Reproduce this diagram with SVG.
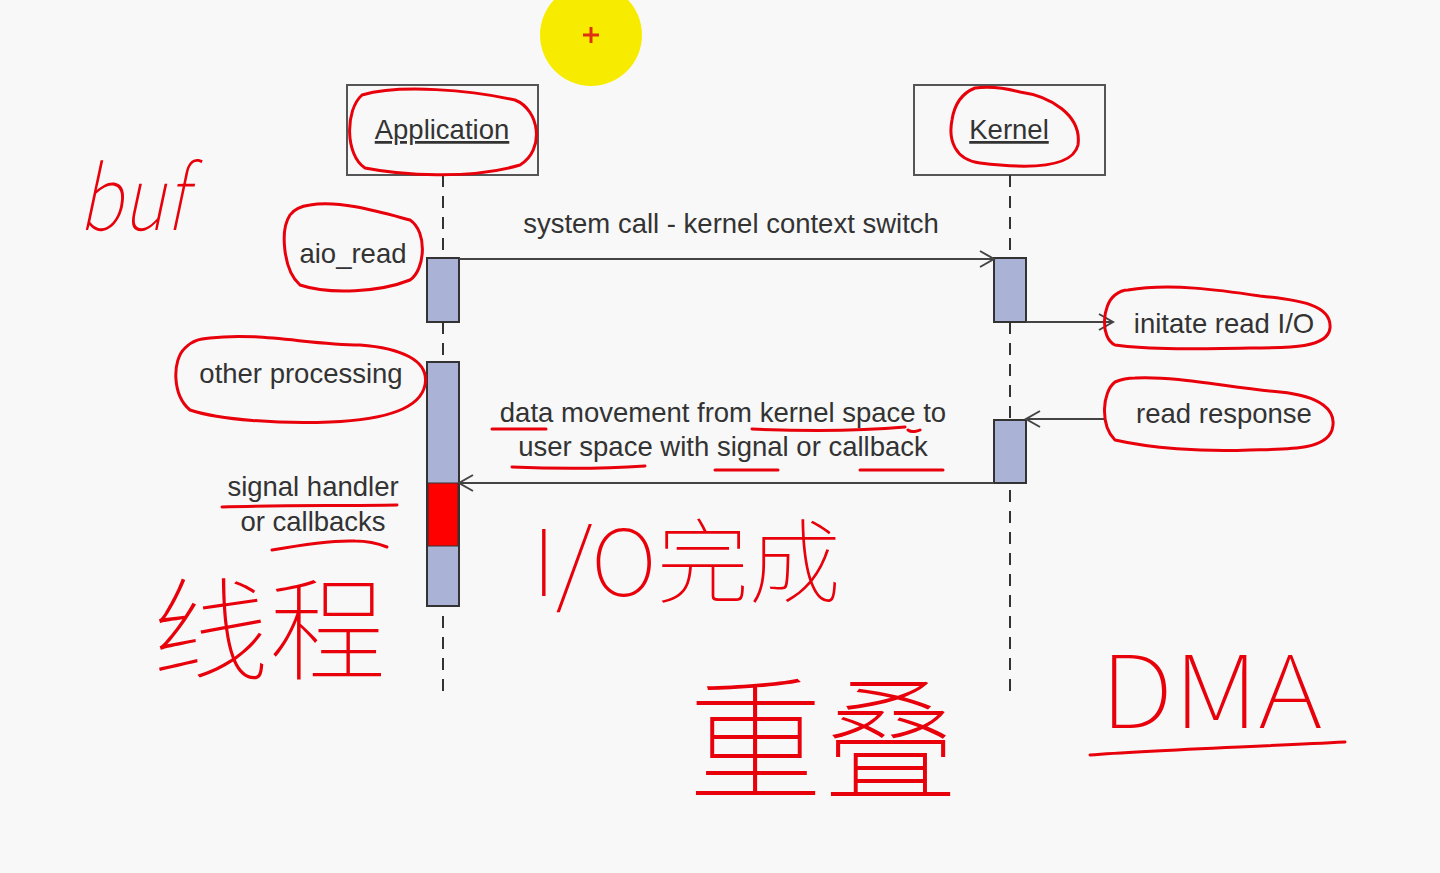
<svg xmlns="http://www.w3.org/2000/svg" width="1440" height="873" viewBox="0 0 1440 873">
<defs>
<style>
.t{font-family:"Liberation Sans",Arial,sans-serif;font-size:27.5px;fill:#333;text-anchor:middle}
.box{fill:none;stroke:#555;stroke-width:2}
.life{stroke:#333;stroke-width:2;stroke-dasharray:12 9}
.act{fill:#aab3d6;stroke:#333;stroke-width:2}
.msg{stroke:#444;stroke-width:2;fill:none}
.ink{fill:none;stroke:#e8000b;stroke-width:3;stroke-linecap:round;stroke-linejoin:round}
.hand{font-family:"Noto Sans CJK SC","Noto Sans",sans-serif;fill:#e8000b;font-weight:100}
</style>
<marker id="open" markerWidth="20" markerHeight="20" refX="18" refY="10" orient="auto" markerUnits="userSpaceOnUse">
<path d="M4,2 L18,10 L4,18" fill="none" stroke="#444" stroke-width="2"/>
</marker>
</defs>
<rect width="1440" height="873" fill="#f8f8f8"/>

<g id="cursor">
<circle cx="591" cy="35" r="51" fill="#f7ec00"/>
<path d="M583,35 H599 M591,27 V43" stroke="#e03010" stroke-width="3"/>
</g>

<g id="application">
<rect class="box" x="347" y="85" width="191" height="90"/>
<text class="t" x="442" y="139" text-decoration="underline">Application</text>
<line class="life" x1="443" y1="175" x2="443" y2="692"/>
</g>
<g id="kernel">
<rect class="box" x="914" y="85" width="191" height="90"/>
<text class="t" x="1009" y="139" text-decoration="underline">Kernel</text>
<line class="life" x1="1010" y1="175" x2="1010" y2="692"/>
</g>

<g id="activations">
<rect class="act" x="427" y="258" width="32" height="64"/>
<rect class="act" x="427" y="362" width="32" height="244"/>
<rect x="428" y="483" width="30" height="63" fill="#ff0000" stroke="#333" stroke-width="1"/>
<rect class="act" x="994" y="258" width="32" height="64"/>
<rect class="act" x="994" y="420" width="32" height="63"/>
</g>

<g id="connectors">
<line class="msg" x1="459" y1="259" x2="994" y2="259" marker-end="url(#open)"/>
<line class="msg" x1="1026" y1="322" x2="1113" y2="322" marker-end="url(#open)"/>
<line class="msg" x1="1105" y1="419" x2="1026" y2="419" marker-end="url(#open)"/>
<line class="msg" x1="994" y1="483" x2="459" y2="483" marker-end="url(#open)"/>
</g>

<g id="labels">
<text class="t" x="731" y="233">system call - kernel context switch</text>
<text class="t" x="353" y="263">aio_read</text>
<text class="t" x="301" y="383">other processing</text>
<text class="t" x="1224" y="333">initate read I/O</text>
<text class="t" x="1224" y="423">read response</text>
<text class="t" x="723" y="422">data movement from kernel space to<tspan x="723" dy="34">user space with signal or callback</tspan></text>
<text class="t" x="313" y="496">signal handler<tspan x="313" dy="35">or callbacks</tspan></text>
</g>

<g id="annotations">
<path class="ink" d="M362,95 C400,84 470,90 515,100 C540,110 545,150 520,165 C470,180 400,175 365,168 C345,155 345,110 362,95 Z"/>
<path class="ink" d="M975,88 C990,86 1005,88 1020,92 C1050,96 1082,115 1078,145 C1072,170 1020,168 980,163 C955,160 948,140 952,120 C955,100 965,92 975,88 Z"/>
<path class="ink" d="M310,205 C340,200 380,212 410,220 C428,232 425,270 410,280 C380,292 330,295 300,285 C283,270 280,230 290,215 C295,208 302,206 310,205 Z"/>
<path class="ink" d="M210,338 C260,332 310,345 360,345 C400,348 430,360 425,385 C420,410 380,420 330,422 C280,424 220,420 190,410 C172,395 172,360 185,348 C193,340 200,339 210,338 Z"/>
<path class="ink" d="M1128,290 C1170,283 1220,290 1260,296 C1300,300 1332,305 1330,328 C1328,348 1290,348 1250,348 C1200,349 1150,350 1115,345 C1100,338 1102,305 1115,295 C1120,291 1124,290 1128,290 Z"/>
<path class="ink" d="M1135,378 C1180,376 1230,388 1280,392 C1320,396 1338,410 1332,430 C1325,450 1290,449 1250,450 C1200,452 1150,448 1115,440 C1100,425 1102,392 1115,382 C1122,379 1128,378 1135,378 Z"/>
<path class="ink" d="M222,507 C280,505 340,506 397,505"/>
<path class="ink" d="M272,550 C300,545 330,540 355,541 C370,541 382,545 387,547"/>
<path class="ink" d="M492,429 H546 M752,429 C800,431 860,431 905,427 M908,430 C912,433 918,431 920,430 M512,467 C560,469 600,469 645,466 M715,470 H778 M860,470 H943"/>
<path class="ink" d="M1090,755 C1150,750 1250,747 1345,742"/>
<text class="hand" x="78" y="230" font-size="88" textLength="108" lengthAdjust="spacingAndGlyphs" font-family="&quot;Liberation Serif&quot;,serif" font-style="italic">buf</text>
<text class="hand" x="152" y="672" font-size="112" textLength="234" lengthAdjust="spacingAndGlyphs">线程</text>
<text class="hand" x="532" y="596" font-size="92">I/O完成</text>
<text class="hand" x="688" y="790" font-size="135">重叠</text>
<text class="hand" x="1100" y="728" font-size="100" textLength="222" lengthAdjust="spacingAndGlyphs" font-family="&quot;Liberation Sans&quot;,sans-serif">DMA</text>
</g>
</svg>
